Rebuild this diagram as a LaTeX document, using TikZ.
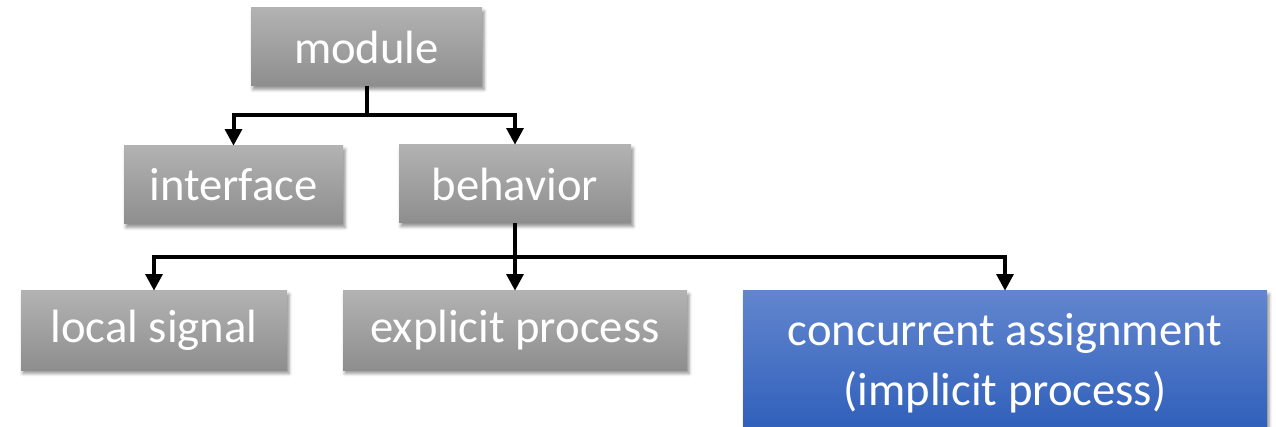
\documentclass[tikz,border=0pt]{standalone}
\usepackage{fontspec}
\setmainfont{Carlito}
\usetikzlibrary{arrows.meta,shadings,shadows.blur}
\definecolor{gtop}{RGB}{178,178,178}
\definecolor{gbot}{RGB}{142,142,142}
\definecolor{btop}{RGB}{98,134,206}
\definecolor{bbot}{RGB}{46,94,186}
\tikzset{
  box/.style={rectangle, inner sep=0pt, text=white, align=center,
    font=\fontsize{35}{45}\selectfont,
    blur shadow={shadow xshift=1.5pt, shadow yshift=-2.5pt, shadow blur radius=2.5pt, shadow opacity=45}},
  gbox/.style={box, top color=gtop, bottom color=gbot},
  bbox/.style={box, top color=btop, bottom color=bbot},
  conn/.style={line width=3pt, draw=black},
  arr/.style={conn, -{Triangle[length=12.5pt,width=12.5pt]}}
}
\begin{document}
\begin{tikzpicture}[x=0.75pt,y=-0.75pt]
\useasboundingbox (0,0) rectangle (1276,427);
\node[gbox, minimum width=231*0.75pt, minimum height=78*0.75pt] (module) at (366.5,47) {module};
\node[gbox, minimum width=219*0.75pt, minimum height=78*0.75pt] (interface) at (233.5,185) {interface};
\node[gbox, minimum width=232*0.75pt, minimum height=78*0.75pt] (behavior) at (515,184) {behavior};
\node[gbox, minimum width=266*0.75pt, minimum height=79*0.75pt] (local) at (154,330.5) {local signal};
\node[gbox, minimum width=344*0.75pt, minimum height=79*0.75pt] (explicit) at (515,330.5) {explicit process};
\node[bbox, minimum width=524*0.75pt, minimum height=144*0.75pt] (conc) at (1005,363) {concurrent assignment\\(implicit process)};
\coordinate (j1) at (366.5,115);
\coordinate (j2) at (515,257);
\draw[conn] (module.south) -- (j1);
\draw[arr] (j1) -| (interface.north);
\draw[arr] (j1) -| (behavior.north);
\draw[conn] (behavior.south) -- (j2);
\draw[arr] (j2) -| (local.north);
\draw[arr] (j2) -- (explicit.north);
\draw[arr] (j2) -| (conc.north);
\end{tikzpicture}
\end{document}
